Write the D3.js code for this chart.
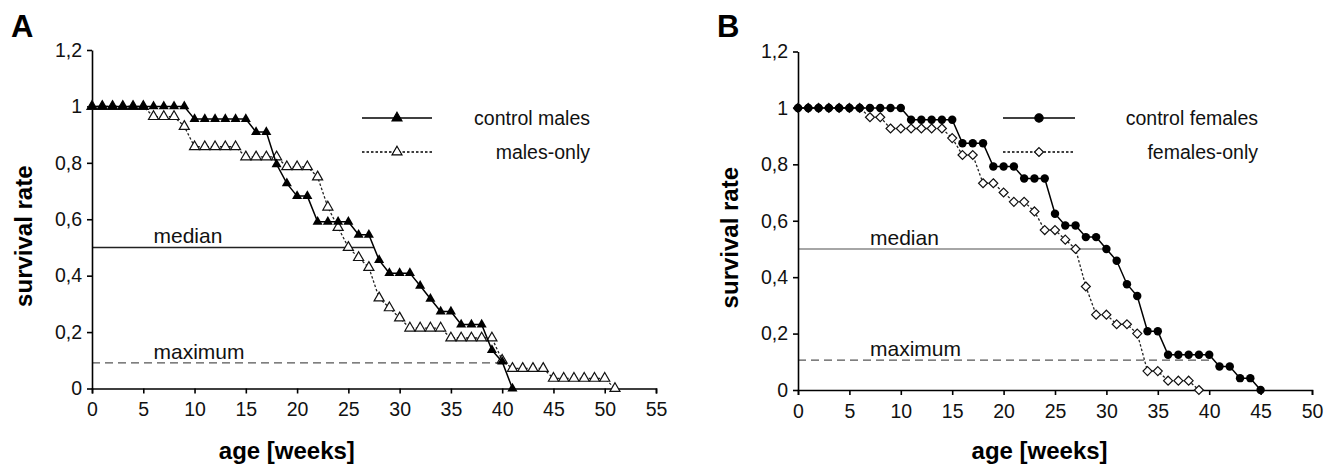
<!DOCTYPE html>
<meta charset="utf-8">
<style>
body { margin: 0; background: #fff; }
svg { font-family: "Liberation Sans", Arial, sans-serif; }
.axis path, .axis line { stroke: #000; stroke-width: 1.6; }
.axis text { font-size: 19.5px; fill: #111; }
.title { font-size: 24px; font-weight: bold; }
.panel { font-size: 31px; font-weight: bold; }
.note { font-size: 21px; fill: #111; }
.legend text { font-size: 19.5px; fill: #111; }
</style>
<body>
<script src="https://d3js.org/d3.v7.min.js"></script>
<script>

// panel A: males
var weeksCtrlM = [0,1,2,3,4,5,6,7,8,9,10,11,12,13,14,15,16,17,18,19,20,21,22,23,24,25,26,27,28,29,30,31,32,33,34,35,36,37,38,39,40,41];
var survCtrlM  = [1,1,1,1,1,1,1,1,1,1,0.955,0.955,0.955,0.955,0.955,0.955,0.909,0.909,0.795,0.727,0.682,0.682,0.591,0.591,0.591,0.591,0.545,0.545,0.455,0.409,0.409,0.409,0.364,0.318,0.273,0.273,0.227,0.227,0.227,0.136,0.095,0];
var weeksOnlyM = [0,1,2,3,4,5,6,7,8,9,10,11,12,13,14,15,16,17,18,19,20,21,22,23,24,25,26,27,28,29,30,31,32,33,34,35,36,37,38,39,40,41,42,43,44,45,46,47,48,49,50,51];
var survOnlyM  = [1,1,1,1,1,1,0.964,0.964,0.964,0.929,0.857,0.857,0.857,0.857,0.857,0.821,0.821,0.821,0.821,0.786,0.786,0.786,0.75,0.643,0.571,0.5,0.464,0.429,0.321,0.286,0.25,0.214,0.214,0.214,0.214,0.179,0.179,0.179,0.179,0.179,0.1,0.071,0.071,0.071,0.071,0.036,0.036,0.036,0.036,0.036,0.036,0];

// panel B: females
var weeksCtrlF = [0,1,2,3,4,5,6,7,8,9,10,11,12,13,14,15,16,17,18,19,20,21,22,23,24,25,26,27,28,29,30,31,32,33,34,35,36,37,38,39,40,41,42,43,44,45];
var survCtrlF  = [1,1,1,1,1,1,1,1,1,1,1,0.958,0.958,0.958,0.958,0.958,0.875,0.875,0.875,0.792,0.792,0.792,0.75,0.75,0.75,0.625,0.583,0.583,0.542,0.542,0.5,0.458,0.375,0.333,0.208,0.208,0.125,0.125,0.125,0.125,0.125,0.083,0.083,0.042,0.042,0];
var weeksOnlyF = [0,1,2,3,4,5,6,7,8,9,10,11,12,13,14,15,16,17,18,19,20,21,22,23,24,25,26,27,28,29,30,31,32,33,34,35,36,37,38,39];
var survOnlyF  = [1,1,1,1,1,1,1,0.967,0.967,0.927,0.927,0.927,0.927,0.927,0.927,0.893,0.833,0.833,0.733,0.733,0.7,0.667,0.667,0.633,0.567,0.567,0.533,0.5,0.367,0.267,0.267,0.233,0.233,0.2,0.067,0.067,0.033,0.033,0.033,0];

// reference lines: [level, end week]
var medianA = [0.5, 27.5], maximumA = [0.091, 40];
var medianB = [0.5, 30],   maximumB = [0.106, 40.3];

var xTicksA = [0,5,10,15,20,25,30,35,40,45,50,55];
var xTicksB = [0,5,10,15,20,25,30,35,40,45,50];
var yTicks  = [0,0.2,0.4,0.6,0.8,1,1.2];

var svg = d3.select("body").append("svg")
    .attr("width", 1334)
    .attr("height", 465);

// square diamond (d3's own diamond is too tall)
var diamondSq = {
  draw: function(ctx, size) {
    var r = Math.sqrt(size / 2);
    ctx.moveTo(0, -r); ctx.lineTo(r, 0); ctx.lineTo(0, r); ctx.lineTo(-r, 0); ctx.closePath();
  }
};
var tri = d3.symbol().type(d3.symbolTriangle).size(44);
var dot = d3.symbol().type(d3.symbolCircle).size(56);
var dia = d3.symbol().type(diamondSq).size(40);

function panel(o) {
  var x = d3.scaleLinear().domain([0, o.xmax]).range([o.left, o.right]);
  var y = d3.scaleLinear().domain([0, 1.2]).range([o.bottom, o.top]);
  var g = svg.append("g");

  // median + maximum
  g.append("line")
      .attr("x1", x(0)).attr("x2", x(o.median[1]))
      .attr("y1", y(o.median[0])).attr("y2", y(o.median[0]))
      .attr("stroke", o.medColor).attr("stroke-width", 1.4);
  g.append("line")
      .attr("x1", x(0)).attr("x2", x(o.maximum[1]))
      .attr("y1", y(o.maximum[0])).attr("y2", y(o.maximum[0]))
      .attr("stroke", "#555").attr("stroke-width", 1.4)
      .attr("stroke-dasharray", "8,5");
  g.append("text").attr("class", "note")
      .attr("x", x(o.noteX)).attr("y", y(o.median[0]) - 4).text("median");
  g.append("text").attr("class", "note")
      .attr("x", x(o.noteX)).attr("y", y(o.maximum[0]) - 4).text("maximum");

  // axes
  g.append("g").attr("class", "axis")
      .attr("transform", "translate(0," + o.bottom + ")")
      .call(d3.axisBottom(x).tickValues(o.xTicks).tickSize(5).tickSizeOuter(5).tickPadding(9));
  g.append("g").attr("class", "axis")
      .attr("transform", "translate(" + o.left + ",0)")
      .call(d3.axisLeft(y).tickValues(yTicks).tickSize(5).tickSizeOuter(0).tickPadding(5)
        .tickFormat(function(d) { return String(+d.toFixed(1)).replace(".", ","); }));

  var line = d3.line().x(function(d) { return x(d[0]); }).y(function(d) { return y(d[1]); });

  // treatment group (open markers, dashed)
  var open = d3.zip(o.openW, o.openS);
  g.append("path").datum(open).attr("d", line)
      .attr("fill", "none").attr("stroke", "#222").attr("stroke-width", 1.3)
      .attr("stroke-dasharray", "2.5,2");
  g.selectAll(".om").data(open).enter().append("path")
      .attr("transform", function(d) { return "translate(" + x(d[0]) + "," + y(d[1]) + ")"; })
      .attr("d", o.openSym).attr("fill", "#fff").attr("stroke", "#111").attr("stroke-width", 1.2);

  // control (filled, solid)
  var ctrl = d3.zip(o.ctrlW, o.ctrlS);
  g.append("path").datum(ctrl).attr("d", line)
      .attr("fill", "none").attr("stroke", "#000").attr("stroke-width", 1.5);
  g.selectAll(".cm").data(ctrl).enter().append("path")
      .attr("transform", function(d) { return "translate(" + x(d[0]) + "," + y(d[1]) + ")"; })
      .attr("d", o.ctrlSym).attr("fill", "#000");

  // titles
  g.append("text").attr("class", "panel").attr("x", o.left - 81).attr("y", 37).text(o.letter);
  g.append("text").attr("class", "title").attr("text-anchor", "middle")
      .attr("transform", "translate(" + (o.left - 60) + "," + y(0.54) + ") rotate(-90)")
      .text("survival rate");
  g.append("text").attr("class", "title").attr("text-anchor", "middle")
      .attr("x", x(o.titleX)).attr("y", 459).text("age [weeks]");

  // legend
  var lg = g.append("g").attr("class", "legend");
  [[o.ctrlName, o.ctrlSym, "#000", null, 118], [o.openName, o.openSym, "#fff", "2.5,2", 152]].forEach(function(r) {
    lg.append("line").attr("x1", o.legX[0]).attr("x2", o.legX[1]).attr("y1", r[4]).attr("y2", r[4])
      .attr("stroke", "#000").attr("stroke-width", 1.3).attr("stroke-dasharray", r[3]);
    lg.append("path").attr("d", r[1])
      .attr("transform", "translate(" + (o.legX[0] + o.legX[1]) / 2 + "," + r[4] + ")")
      .attr("fill", r[2]).attr("stroke", "#000").attr("stroke-width", 1.1);
    lg.append("text").attr("text-anchor", "end").attr("x", o.legX[2]).attr("y", r[4] + 7).text(r[0]);
  });
}

panel({letter: "A", xmax: 55, left: 92, right: 656, top: 50, bottom: 388.5, xTicks: xTicksA,
  ctrlW: weeksCtrlM, ctrlS: survCtrlM, openW: weeksOnlyM, openS: survOnlyM,
  ctrlSym: tri, openSym: tri, median: medianA, maximum: maximumA, medColor: "#222",
  noteX: 6, titleX: 19, legX: [362, 432, 590], ctrlName: "control males", openName: "males-only"});

panel({letter: "B", xmax: 50, left: 798, right: 1312, top: 51.5, bottom: 390, xTicks: xTicksB,
  ctrlW: weeksCtrlF, ctrlS: survCtrlF, openW: weeksOnlyF, openS: survOnlyF,
  ctrlSym: dot, openSym: dia, median: medianB, maximum: maximumB, medColor: "#888",
  noteX: 7, titleX: 23.5, legX: [1003, 1075, 1258], ctrlName: "control females", openName: "females-only"});

</script>
</body>
